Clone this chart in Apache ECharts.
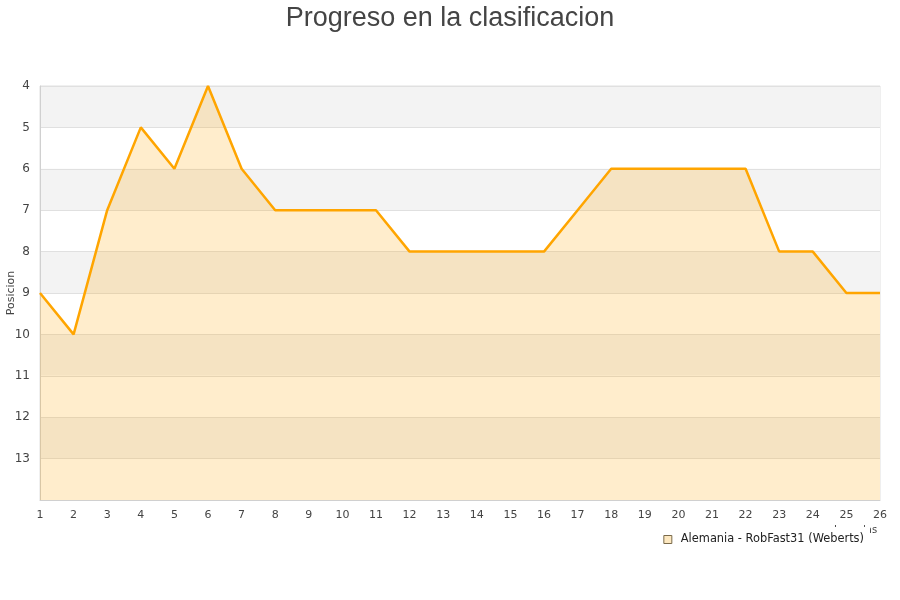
<!DOCTYPE html>
<html><head><meta charset="utf-8">
<script src="https://cdn.jsdelivr.net/npm/echarts@6/dist/echarts.min.js"></script>
<style>html,body{margin:0;padding:0;background:#fff}#c{width:900px;height:600px}</style>
</head><body><div id="c"></div>
<script>
const jornadas = ['1','2','3','4','5','6','7','8','9','10','11','12','13','14','15','16','17','18','19','20','21','22','23','24','25','26'];
const posiciones = [9,10,7,5,6,4,6,7,7,7,7,8,8,8,8,8,7,6,6,6,6,6,8,8,9,9];
const serieName = 'Alemania - RobFast31 (Weberts)';
const titulo = 'Progreso en la clasificacion';
const ejeX = 'Jornadas';
const ejeY = 'Posicion';

const chart = echarts.init(document.getElementById('c'));
chart.setOption({
  animation: false,
  textStyle: {fontFamily: 'DejaVu Sans'},
  title: {text: titulo, left: 'center', top: 0,
    textStyle: {fontSize: 27, fontWeight: 'normal', color: '#444', fontFamily: 'Liberation Sans'}},
  grid: {left: 40, right: 20, top: 86, bottom: 100, show: true, borderColor: '#e0e0e0', borderWidth: 1,
    containLabel: false, outerBoundsMode: 'none'},
  graphic: [{type: 'text', left: 834, top: 525, z: -10, zlevel: 0,
    style: {text: ejeX, fontSize: 10, fill: '#444', fontFamily: 'DejaVu Sans'}}],
  legend: {right: 30, top: 527, itemWidth: 8, itemHeight: 8, icon: 'rect', backgroundColor: '#ffffff',
    padding: [7, 6, 4, 10], z: 20, itemGap: 5,
    textStyle: {fontSize: 11.4, color: '#222', padding: [0, 0, 0, 4]},
    data: [{name: serieName, itemStyle: {color: '#fde8c0', borderColor: '#7a6a4a', borderWidth: 1}}]},
  xAxis: {type: 'category', data: jornadas, boundaryGap: false,
    axisLine: {lineStyle: {color: '#d0d0d0'}}, axisTick: {show: false},
    axisLabel: {fontSize: 11, color: '#444', margin: 10}},
  yAxis: {type: 'value', inverse: true, min: 4, max: 14, interval: 1,
    name: ejeY, nameLocation: 'middle', nameGap: 23, nameRotate: 90, nameMoveOverlap: false,
    nameTextStyle: {fontSize: 11, color: '#444'},
    axisLine: {show: true, lineStyle: {color: '#d0d0d0'}}, axisTick: {show: false},
    axisLabel: {fontSize: 12, color: '#444', margin: 10,
      formatter: v => v === 14 ? '' : String(v)},
    splitLine: {lineStyle: {color: '#e0e0e0'}},
    splitArea: {show: true, areaStyle: {color: ['#f3f3f3', '#ffffff']}}},
  series: [{name: serieName, type: 'line', data: posiciones, symbol: 'none',
    lineStyle: {color: '#ffa500', width: 2.5}, itemStyle: {color: '#ffa500'},
    areaStyle: {color: '#ffa500', opacity: 0.2, origin: 'end'}}]
});
</script></body></html>
